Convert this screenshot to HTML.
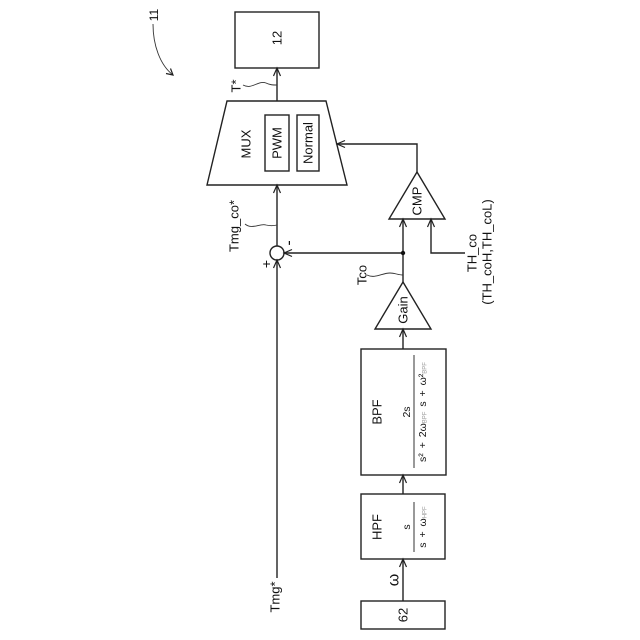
<!DOCTYPE html>
<html><head><meta charset="utf-8"><style>
html,body{margin:0;padding:0;background:#fff}
svg{display:block}
text{font-family:"Liberation Sans",sans-serif;fill:#111;text-anchor:middle;dominant-baseline:central}
.l{fill:none;stroke:#222;stroke-width:1.4}
.t{fill:none;stroke:#333;stroke-width:.9}
.a{fill:none;stroke:#222;stroke-width:1.2}
.g{fill:#999}
</style></head><body>
<svg width="640" height="640" viewBox="0 0 640 640" xmlns="http://www.w3.org/2000/svg">
<!-- boxes -->
<rect class="l" x="235" y="12" width="84" height="56"/>
<path class="l" d="M227 101H326L347 185H207Z"/>
<rect class="l" x="265" y="115" width="24" height="56"/>
<rect class="l" x="297" y="115" width="22" height="56"/>
<rect class="l" x="361" y="349" width="85" height="126"/>
<rect class="l" x="361" y="494" width="84" height="65"/>
<rect class="l" x="361" y="601" width="84" height="28"/>
<path class="l" d="M403 282L431 329H375Z"/>
<path class="l" d="M417 172L445 219H389Z"/>
<circle class="l" cx="277" cy="253" r="7"/>
<!-- connectors -->
<path class="l" d="M277 101V68M277 246V185M277 578V260M403 601V559M403 494V475M403 349V329M403 282V219M403 253H284M431 219V253H465M417 172V144H337"/>
<circle cx="403" cy="253" r="2.2" fill="#111"/>
<!-- arrowheads -->
<path class="a" d="M273.5 76L277 68L280.5 76M273.5 193L277 185L280.5 193M273.5 268L277 260L280.5 268M399.5 567L403 559L406.5 567M399.5 483L403 475L406.5 483M399.5 337L403 329L406.5 337M399.5 227L403 219L406.5 227M427.5 227L431 219L434.5 227M292 249.5L284 253L292 256.5M345 140.5L337 144L345 147.5"/>
<!-- fraction bars -->
<path d="M414 355V468M414 502V552" stroke="#333" stroke-width="1" fill="none"/>
<!-- leaders -->
<path class="t" d="M153 24C153 45 160 65 173 75"/>
<path class="a" d="M166 73.5L173 75L170.5 68.5" stroke-width="1"/>
<path class="t" d="M243 85C252 90 258 80 266 83C270 85 273 85 277 85"/>
<path class="t" d="M245 224C252 230 260 223 266 225C270 226 273 226 277 225"/>
<path class="t" d="M367 275C375 279 382 273 390 273C395 273 398 275 403 275"/>
<!-- labels -->
<text x="154" y="15" font-size="12" transform="rotate(-90 154 15)">11</text>
<text x="277" y="38" font-size="13" transform="rotate(-90 277 38)">12</text>
<text x="236" y="86" font-size="13" transform="rotate(-90 236 86)">T*</text>
<text x="246" y="144" font-size="13" transform="rotate(-90 246 144)">MUX</text>
<text x="277" y="143" font-size="13" transform="rotate(-90 277 143)">PWM</text>
<text x="308" y="143" font-size="13" transform="rotate(-90 308 143)">Normal</text>
<text x="234" y="226" font-size="13" transform="rotate(-90 234 226)">Tmg_co*</text>
<text x="417" y="201" font-size="13" transform="rotate(-90 417 201)">CMP</text>
<text x="403" y="310" font-size="13" transform="rotate(-90 403 310)">Gain</text>
<text x="362" y="275" font-size="13" transform="rotate(-90 362 275)">Tco</text>
<text x="472" y="253" font-size="13" transform="rotate(-90 472 253)">TH_co</text>
<text x="487" y="252" font-size="13" transform="rotate(-90 487 252)">(TH_coH,TH_coL)</text>
<text x="289" y="243" font-size="16" transform="rotate(-90 289 243)">-</text>
<text x="266" y="264" font-size="14" transform="rotate(-90 266 264)">+</text>
<text x="275" y="597" font-size="13" transform="rotate(-90 275 597)">Tmg*</text>
<text x="377" y="412" font-size="13" transform="rotate(-90 377 412)">BPF</text>
<text x="407" y="412" font-size="10.5" transform="rotate(-90 407 412)">2s</text>
<text x="423" y="412" font-size="10.5" word-spacing="2" transform="rotate(-90 423 412)" xml:space="preserve">s² + 2ω<tspan class="g" font-size="6" dy="2.5">BPF</tspan><tspan dy="-2.5"> s + ω²</tspan><tspan class="g" font-size="6" dy="2.5">BPF</tspan></text>
<text x="377" y="527" font-size="13" transform="rotate(-90 377 527)">HPF</text>
<text x="407" y="527" font-size="10.5" transform="rotate(-90 407 527)">s</text>
<text x="423" y="527" font-size="10.5" word-spacing="2" transform="rotate(-90 423 527)" xml:space="preserve">s + ω<tspan class="g" font-size="6" dy="2.5">HPF</tspan></text>
<text x="394" y="580" font-size="16" transform="rotate(-90 394 580)">ω</text>
<text x="403" y="615" font-size="13" transform="rotate(-90 403 615)">62</text>
</svg>
</body></html>
